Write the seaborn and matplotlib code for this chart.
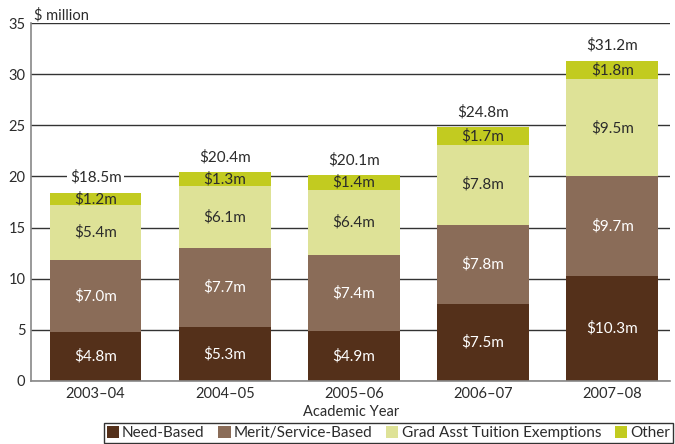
import matplotlib
matplotlib.use("Agg")
import matplotlib.pyplot as plt
import seaborn as sns
import numpy as np
import pandas as pd
from matplotlib.patches import Patch

years = ["2003\u201304", "2004\u201305", "2005\u201306", "2006\u201307", "2007\u201308"]
need_based = [4.8, 5.3, 4.9, 7.5, 10.3]
merit_service = [7.0, 7.7, 7.4, 7.8, 9.7]
grad_asst = [5.4, 6.1, 6.4, 7.8, 9.5]
other = [1.2, 1.3, 1.4, 1.7, 1.8]
totals = [18.5, 20.4, 20.1, 24.8, 31.2]
series_names = ["Need-Based", "Merit/Service-Based", "Grad Asst Tuition Exemptions", "Other"]
colors = ["#54301A", "#8A6C58", "#DEE297", "#C2CB20"]
label_colors = ["white", "white", "#2b2b2b", "#2b2b2b"]

sns.set_theme(style="white")
plt.rcParams["font.family"] = ["Lato", "DejaVu Sans"]

series = [need_based, merit_service, grad_asst, other]
cum = np.cumsum(np.array(series), axis=0)

fig = plt.figure(figsize=(6.75, 4.44), dpi=100)
ax = fig.add_axes([0.046, 0.142, 0.947, 0.806])

# stacked bars: draw cumulative heights from tallest to shortest
for i in range(len(series) - 1, -1, -1):
    df = pd.DataFrame({"year": years, "value": cum[i]})
    sns.barplot(data=df, x="year", y="value", color=colors[i], width=0.71,
                saturation=1, ax=ax, zorder=2, edgecolor="none", linewidth=0)

# segment labels
for i, vals in enumerate(series):
    for j, v in enumerate(vals):
        bottom = cum[i][j] - v
        ax.text(j, bottom + v / 2, f"${v:.1f}m", ha="center", va="center",
                fontsize=11, color=label_colors[i], zorder=4)

# totals above bars
for j, t in enumerate(totals):
    ax.text(j, cum[-1][j] + 1.5, f"${t:.1f}m", ha="center", va="center",
            fontsize=11, color="#2b2b2b", zorder=4,
            bbox=dict(facecolor="white", edgecolor="none", pad=2))

ax.set_ylim(0, 35)
ax.set_xlim(-0.5, 4.45)
ax.set_yticks(range(0, 36, 5))
ax.yaxis.grid(True, color="#333333", linewidth=1.0, zorder=0)
ax.set_axisbelow(True)
for s in ["top", "right"]:
    ax.spines[s].set_visible(False)
for s in ["left", "bottom"]:
    ax.spines[s].set_color("#888888")
    ax.spines[s].set_linewidth(1.2)
ax.tick_params(axis="both", labelsize=10.5, colors="#2b2b2b", length=0, pad=4)
ax.set_xlabel("Academic Year", fontsize=10.5, color="#2b2b2b", labelpad=3)
ax.set_ylabel("")
ax.text(0.005, 1.003, "$ million", transform=ax.transAxes, fontsize=10.5,
        color="#2b2b2b", ha="left", va="bottom")

handles = [Patch(facecolor=c, edgecolor="none") for c in colors]
leg = fig.legend(handles, series_names, loc="lower right",
                 bbox_to_anchor=(0.997, 0.002), ncol=4, fontsize=11,
                 frameon=True, fancybox=False, handlelength=0.8,
                 handleheight=0.8, handletextpad=0.2, columnspacing=0.9,
                 borderpad=0.2, borderaxespad=0)
leg.get_frame().set_edgecolor("black")
leg.get_frame().set_linewidth(1.0)
for t in leg.get_texts():
    t.set_color("#2b2b2b")

fig.savefig("out.png", dpi=100)
